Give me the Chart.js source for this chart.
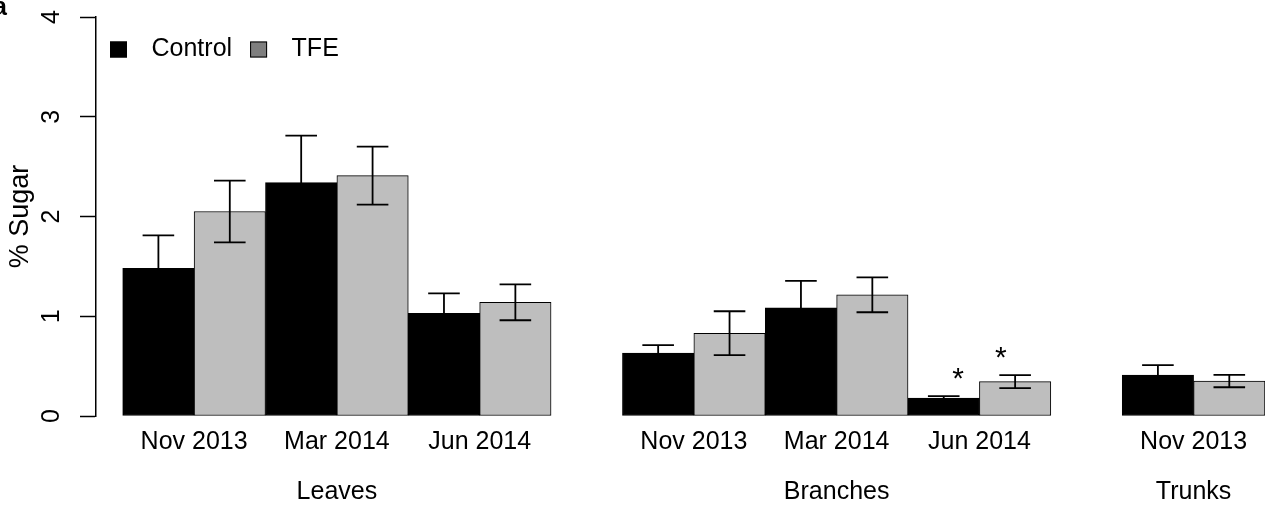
<!DOCTYPE html>
<html>
<head>
<meta charset="utf-8">
<script src="https://cdn.jsdelivr.net/npm/chart.js@4.4.1/dist/chart.umd.min.js"></script>
<style>
  html, body { margin: 0; padding: 0; background: #ffffff; }
  #c { display: block; }
</style>
</head>
<body>
<canvas id="c" width="1265" height="508"></canvas>
<script>
// Tissues and the sampling dates measured in each
const tissues = ['Leaves', 'Branches', 'Trunks'];
const samplingDates = [
  ['Nov 2013', 'Mar 2014', 'Jun 2014'],
  ['Nov 2013', 'Mar 2014', 'Jun 2014'],
  ['Nov 2013']
];
const seriesNames = ['Control', 'TFE'];

// Mean sugar content (%) and standard errors, in tissue/date order
const controlMean = [1.48, 2.34, 1.03, 0.63, 1.085, 0.18, 0.41];
const controlSE   = [0.33, 0.47, 0.20, 0.08, 0.27, 0.02, 0.10];
const tfeMean     = [2.05, 2.41, 1.14, 0.83, 1.215, 0.345, 0.35];
const tfeSE       = [0.31, 0.29, 0.18, 0.22, 0.175, 0.065, 0.062];

// Significant differences between treatments (marked with *)
const controlSig = [false, false, false, false, false, true, false];
const tfeSig     = [false, false, false, false, false, true, false];

const yTickValues = [0, 1, 2, 3, 4];

// Bar slots: each date gets two adjacent bars, tissues are separated by one empty bar
const barSlots = [];      // left edge of each date pair
const dateTicks = [];     // centre of each pair + its label
const tissueTicks = [];   // centre of each tissue block + its label
let cursor = 0;
tissues.forEach((t, g) => {
  const start = cursor;
  samplingDates[g].forEach((d) => {
    barSlots.push(cursor);
    dateTicks.push({ value: cursor + 1, label: d });
    cursor += 2;
  });
  tissueTicks.push({ value: (start + cursor) / 2, label: t });
  cursor += 1;
});

const toPoints = (means, offset) => means.map((m, i) => ({ x: barSlots[i] + offset, y: m }));

const FONT = "'Liberation Sans', Arial, Helvetica, sans-serif";
Chart.defaults.font.family = FONT;
Chart.defaults.font.size = 25;
Chart.defaults.color = '#000000';

// Whiskers and significance stars
const errorBars = {
  id: 'errorBars',
  afterDatasetsDraw(chart) {
    const ctx = chart.ctx;
    const ys = chart.scales.y;
    const xs = chart.scales.x;
    ctx.save();
    ctx.strokeStyle = '#000000';
    ctx.lineWidth = 1.8;
    chart.data.datasets.forEach((ds, di) => {
      const meta = chart.getDatasetMeta(di);
      meta.data.forEach((bar, i) => {
        const v = ds.data[i].y;
        const e = ds.errors[i];
        const top = ys.getPixelForValue(v + e);
        const bot = ys.getPixelForValue(v - e);
        const cx = bar.x;
        const half = 15.8;
        ctx.beginPath();
        ctx.moveTo(cx, top); ctx.lineTo(cx, bot);
        ctx.moveTo(cx - half, top); ctx.lineTo(cx + half, top);
        ctx.moveTo(cx - half, bot); ctx.lineTo(cx + half, bot);
        ctx.stroke();
        if (ds.significant[i]) {
          const shift = di === 0 ? 0.2 : -0.2;
          const sx = xs.getPixelForValue(ds.data[i].x + shift);
          ctx.fillStyle = '#000000';
          ctx.font = '30px ' + FONT;
          ctx.textAlign = 'center';
          ctx.textBaseline = 'alphabetic';
          ctx.fillText('*', sx, top - 8);
        }
      });
    });
    ctx.restore();
  }
};

// Legend placed inside the plot area, top-left, plus the panel letter
const insetLegend = {
  id: 'insetLegend',
  afterDraw(chart) {
    const ctx = chart.ctx;
    ctx.save();
    ctx.font = '25px ' + FONT;
    ctx.textBaseline = 'middle';
    ctx.textAlign = 'left';
    let x = 110;
    const y = 41.5, w = 17, h = 16;
    chart.data.datasets.forEach((ds) => {
      ctx.fillStyle = ds.legendColor;
      ctx.fillRect(x, y, w, h);
      ctx.strokeStyle = '#000000';
      ctx.lineWidth = 1;
      ctx.strokeRect(x + 0.5, y + 0.5, w - 1, h - 1);
      const tx = x + 41.5;
      ctx.fillStyle = '#000000';
      ctx.fillText(ds.label, tx, y + h / 2);
      x = tx + ctx.measureText(ds.label).width + 18;
    });
    ctx.font = 'bold 25px ' + FONT;
    ctx.textAlign = 'right';
    ctx.textBaseline = 'alphabetic';
    ctx.fillText('a', 7, 15);
    ctx.restore();
  }
};

const bottomAxis = (ticksList, height, weight) => ({
  type: 'linear',
  position: 'bottom',
  min: -0.374,
  max: 16,
  offset: false,
  weight: weight,
  grid: { display: false, drawTicks: false, offset: false },
  border: { display: false },
  afterBuildTicks: (scale) => { scale.ticks = ticksList.map(t => ({ value: t.value })); },
  ticks: {
    autoSkip: false,
    maxRotation: 0,
    minRotation: 0,
    padding: 11,
    color: '#000000',
    callback: (v, i) => ticksList[i].label
  },
  afterFit: (scale) => { scale.height = height; }
});

new Chart(document.getElementById('c'), {
  type: 'bar',
  data: {
    datasets: [
      {
        label: seriesNames[0],
        data: toPoints(controlMean, 0.5),
        errors: controlSE,
        significant: controlSig,
        backgroundColor: '#000000',
        borderColor: '#000000',
        legendColor: '#000000',
        borderWidth: 1,
        borderSkipped: false
      },
      {
        label: seriesNames[1],
        data: toPoints(tfeMean, 1.5),
        errors: tfeSE,
        significant: tfeSig,
        backgroundColor: '#bebebe',
        borderColor: '#000000',
        legendColor: '#7f7f7f',
        borderWidth: 1,
        borderSkipped: false
      }
    ]
  },
  options: {
    responsive: false,
    animation: false,
    events: [],
    grouped: false,
    barPercentage: 1,
    categoryPercentage: 1,
    layout: { padding: { top: 17, left: 0, right: 0, bottom: 0 } },
    plugins: {
      legend: { display: false },
      tooltip: { enabled: false }
    },
    scales: {
      x: bottomAxis(dateTicks, 50, 0),
      x2: bottomAxis(tissueTicks, 42, 1),
      y: {
        type: 'linear',
        position: 'left',
        min: 0,
        max: 4,
        afterBuildTicks: (scale) => { scale.ticks = yTickValues.map(v => ({ value: v })); },
        ticks: {
          minRotation: 90,
          maxRotation: 90,
          crossAlign: 'center',
          padding: 21,
          color: '#000000'
        },
        grid: {
          drawOnChartArea: false,
          drawTicks: true,
          tickLength: 16,
          tickColor: '#000000',
          tickWidth: 1.5,
          color: '#000000'
        },
        border: { display: true, color: '#000000', width: 1.5 },
        title: {
          display: true,
          text: '% Sugar',
          color: '#000000',
          font: { size: 27 },
          padding: { top: 4, bottom: 0 }
        },
        afterFit: (scale) => {
          scale.width = 96;
          scale.paddingTop = 0;
          scale.paddingBottom = 0;
        }
      }
    }
  },
  plugins: [errorBars, insetLegend]
});
</script>
</body>
</html>
